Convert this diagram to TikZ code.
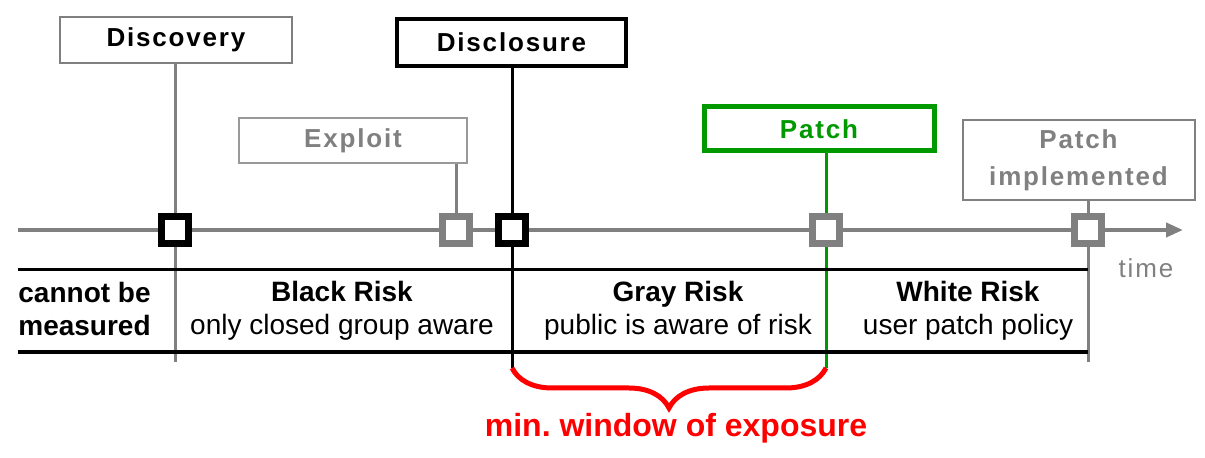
\documentclass[tikz,border=0pt]{standalone}
\usepackage{fontspec}
\setmainfont{Liberation Sans}
\newfontfamily\spacedsans[LetterSpace=7]{Liberation Sans}
\usetikzlibrary{backgrounds,arrows.meta,decorations.pathreplacing}
\definecolor{tlgray}{RGB}{128,128,128}
\definecolor{tlgreen}{RGB}{0,153,0}
\definecolor{tlred}{RGB}{255,0,0}
\tikzset{
  event/.style={draw, fill=white, line width=1pt, minimum width=116pt,
    minimum height=23pt, inner sep=2pt, align=center,
    font=\spacedsans\bfseries\fontsize{13}{18.5}\selectfont},
  milestone/.style={draw, fill=white, line width=3.5pt, minimum size=13.5pt,
    inner sep=0pt},
  stem/.style={line width=1.5pt},
  riskcell/.style={align=center, inner sep=0pt,
    font=\fontsize{14}{16.5}\selectfont},
  window/.style={decorate, decoration={brace, mirror, amplitude=20pt},
    line width=2.5pt, tlred},
}

\begin{document}
\begin{tikzpicture}[x=0.5pt,y=-0.5pt]
\useasboundingbox (0,0) rectangle (1205,458);
\node[event, draw=tlgray] (discovery) at (176,40) {Discovery};
\node[event, line width=2pt, minimum width=114.5pt, minimum height=23.5pt]
  (disclosure) at (511.5,42.5) {Disclosure};
\node[event, draw=tlgray!80, text=tlgray, minimum width=114pt,
  minimum height=22.5pt] (exploit) at (353,140.5) {Exploit};
\node[event, draw=tlgreen, text=tlgreen, line width=2.5pt, minimum width=115pt,
  minimum height=22pt] (patch) at (819,129) {Patch};
\node[event, draw=tlgray, text=tlgray, minimum height=40pt]
  (implemented) at (1078.5,160) {Patch\\implemented};
\node[milestone] (m1) at (175,230) {};
\node[milestone, draw=tlgray] (m2) at (456,230) {};
\node[milestone] (m3) at (512,230) {};
\node[milestone, draw=tlgray] (m4) at (826,230) {};
\node[milestone, draw=tlgray] (m5) at (1088,230) {};
\coordinate (t0) at (18,230);
\coordinate (t1) at (1183,230);
\coordinate (r0) at (18,270);
\coordinate (r1) at (1088,270);
\coordinate (s0) at (18,352);
\coordinate (s1) at (1088,352);
\coordinate (b1) at (175,362);
\coordinate (b3) at (512,368);
\coordinate (b4) at (826,368);
\coordinate (b5) at (1088,362);
\begin{scope}[on background layer]
\draw[tlgray, line width=2pt, -{Triangle[length=8.5pt,width=7pt]}] (t0) -- (t1);
\draw[stem, tlgray] (m1 |- discovery.south) -- (b1);
\draw[stem] (m3 |- disclosure.south) -- (b3);
\draw[stem, tlgray] (m2 |- exploit.south) -- (m2);
\draw[stem, tlgreen] (m4 |- patch.south) -- (b4);
\draw[stem, tlgray] (m5 |- implemented.south) -- (b5);
\draw[line width=1.5pt] (r0) -- (r1);
\draw[line width=2pt] (s0) -- (s1);
\end{scope}
\node[riskcell, align=left, anchor=west, font=\bfseries\fontsize{14}{16.5}\selectfont]
  (unmeasured) at (18,309) {cannot be\\measured};
\node[riskcell] (blackrisk) at (342,311) {\textbf{Black Risk}\\only closed group aware};
\node[riskcell] (grayrisk) at (678,311) {\textbf{Gray Risk}\\public is aware of risk};
\node[riskcell] (whiterisk) at (968,311) {\textbf{White Risk}\\user patch policy};
\node[text=tlgray, font=\spacedsans\fontsize{13}{15}\selectfont] (time) at (1146,268) {time};
\draw[window] (b3) -- (b4);
\node[text=tlred, font=\bfseries\fontsize{16}{18}\selectfont] (exposure) at (676,428)
  {min.\ window of exposure};
\end{tikzpicture}
\end{document}
